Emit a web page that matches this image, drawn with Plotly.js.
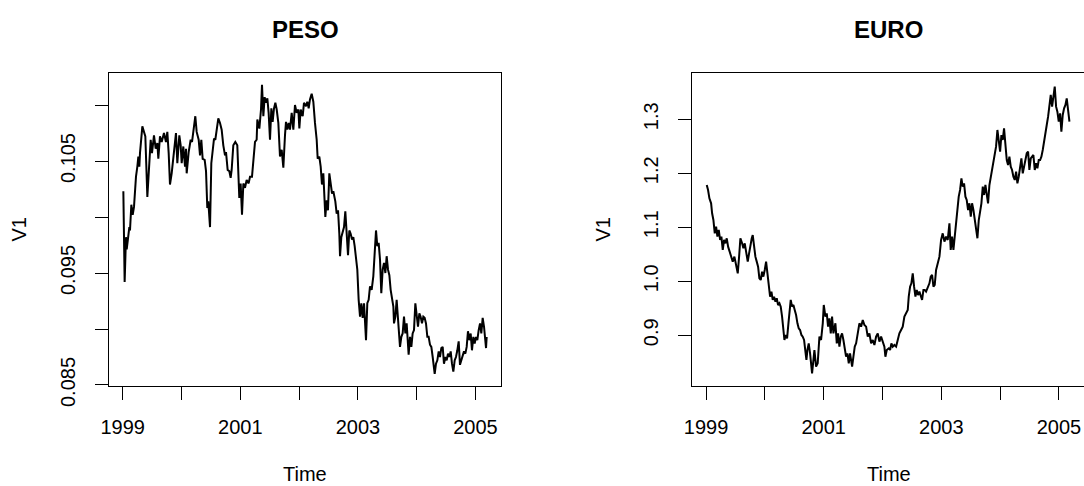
<!DOCTYPE html>
<html>
<head>
<meta charset="utf-8">
<script src="https://cdn.plot.ly/plotly-3.0.1.min.js"></script>
<style>
html,body{margin:0;padding:0;background:#fff;overflow:hidden;width:1084px;height:486px;}
#chart{width:1166px;height:486px;}
</style>
</head>
<body>
<div id="chart"></div>
<script>
// ---- Data (decimal years) ----
const pesoTime = [1999.011,1999.033,1999.056,1999.068,1999.113,1999.124,1999.147,1999.170,1999.192,1999.215,1999.226,1999.249,1999.266,1999.283,1999.294,1999.334,1999.362,1999.385,1999.419,1999.453,1999.476,1999.498,1999.532,1999.561,1999.589,1999.606,1999.634,1999.663,1999.702,1999.736,1999.759,1999.782,1999.804,1999.833,1999.872,1999.906,1999.929,1999.963,1999.986,2000.003,2000.031,2000.060,2000.077,2000.088,2000.122,2000.156,2000.179,2000.201,2000.235,2000.258,2000.292,2000.315,2000.337,2000.360,2000.394,2000.417,2000.439,2000.456,2000.485,2000.507,2000.530,2000.553,2000.575,2000.598,2000.626,2000.655,2000.683,2000.711,2000.740,2000.757,2000.785,2000.813,2000.836,2000.853,2000.881,2000.915,2000.949,2000.983,
2001.006,2001.029,2001.052,2001.080,2001.108,2001.142,2001.165,2001.199,2001.222,2001.250,2001.278,2001.290,2001.324,2001.352,2001.369,2001.392,2001.414,2001.437,2001.460,2001.482,2001.505,2001.528,2001.550,2001.573,2001.596,2001.619,2001.647,2001.675,2001.704,2001.732,2001.760,2001.777,2001.800,2001.823,2001.845,2001.874,2001.902,2001.930,2001.959,2001.987,2002.004,2002.027,2002.061,2002.083,2002.117,2002.140,2002.163,2002.185,2002.214,2002.242,2002.270,2002.299,2002.316,2002.344,2002.367,2002.389,2002.412,2002.429,2002.446,2002.469,2002.491,2002.514,2002.537,2002.560,2002.582,2002.616,2002.639,2002.662,2002.684,2002.696,2002.718,2002.741,2002.764,2002.786,2002.809,2002.832,2002.854,2002.877,2002.900,2002.922,2002.945,2002.968,2002.990,2003.013,2003.036,2003.058,2003.081,2003.104,2003.115,2003.138,2003.160,2003.183,2003.206,2003.234,2003.262,2003.285,2003.308,2003.330,2003.353,2003.376,
2003.398,2003.421,2003.444,2003.467,2003.489,2003.512,2003.535,2003.557,2003.580,2003.603,2003.614,2003.637,2003.659,2003.682,2003.705,2003.716,2003.739,2003.761,2003.784,2003.807,2003.829,2003.852,2003.863,2003.886,2003.909,2003.931,2003.954,2003.977,2003.999,2004.022,2004.045,2004.067,2004.090,2004.113,2004.135,2004.158,2004.181,2004.203,2004.226,2004.249,2004.272,2004.294,2004.306,2004.328,2004.351,2004.374,2004.396,2004.419,2004.442,2004.464,2004.487,2004.510,2004.532,2004.555,2004.578,2004.600,2004.623,2004.646,2004.668,2004.691,2004.714,2004.736,2004.759,2004.782,2004.804,2004.827,2004.850,2004.872,2004.895,2004.918,2004.940,2004.963,2004.986,2005.008,2005.031,2005.054,2005.077,2005.099,2005.122,2005.145,2005.167,2005.179,2005.190];
const pesoValue = [0.1023,0.0942,0.0982,0.0971,0.0991,0.0988,0.1011,0.1002,0.1009,0.1030,0.1036,0.1045,0.1054,0.1045,0.1057,0.1081,0.1076,0.1072,0.1018,0.1054,0.1069,0.1057,0.1073,0.1061,0.1066,0.1052,0.1072,0.1067,0.1075,0.1067,0.1076,0.1057,0.1029,0.1039,0.1057,0.1075,0.1048,0.1073,0.1064,0.1048,0.1063,0.1045,0.1061,0.1039,0.1058,0.1069,0.1067,0.1076,0.1090,0.1076,0.1069,0.1055,0.1069,0.1052,0.1051,0.1041,0.1008,0.1014,0.0991,0.1048,0.1057,0.1070,0.1069,0.1079,0.1088,0.1084,0.1078,0.1064,0.1055,0.1058,0.1042,0.1041,0.1035,0.1042,0.1064,0.1067,0.1064,0.1017,
0.1030,0.1002,0.1030,0.1026,0.1033,0.1030,0.1036,0.1036,0.1048,0.1067,0.1069,0.1087,0.1079,0.1096,0.1118,0.1090,0.1107,0.1102,0.1106,0.1093,0.1069,0.1097,0.1085,0.1097,0.1102,0.1096,0.1084,0.1054,0.1060,0.1044,0.1073,0.1085,0.1078,0.1084,0.1078,0.1093,0.1078,0.1100,0.1093,0.1096,0.1079,0.1096,0.1090,0.1102,0.1099,0.1103,0.1097,0.1105,0.1110,0.1103,0.1084,0.1069,0.1052,0.1054,0.1045,0.1029,0.1039,0.1018,0.1000,0.1015,0.1006,0.1039,0.1030,0.1021,0.1023,0.1014,0.1003,0.1006,0.0985,0.0965,0.0982,0.0988,0.0991,0.1005,0.0980,0.0966,0.0988,0.0985,0.0980,0.0982,0.0974,0.0959,0.0953,0.0926,0.0911,0.0923,0.0910,0.0923,0.0908,0.0890,0.0923,0.0926,0.0938,0.0935,0.0947,0.0971,0.0988,0.0974,0.0977,0.0962,
0.0932,0.0953,0.0959,0.0950,0.0965,0.0953,0.0948,0.0935,0.0929,0.0920,0.0905,0.0911,0.0926,0.0911,0.0899,0.0884,0.0893,0.0896,0.0911,0.0896,0.0905,0.0887,0.0877,0.0893,0.0884,0.0896,0.0899,0.0923,0.0914,0.0902,0.0914,0.0911,0.0905,0.0911,0.0910,0.0905,0.0893,0.0893,0.0886,0.0884,0.0875,0.0866,0.0860,0.0869,0.0872,0.0880,0.0875,0.0883,0.0884,0.0869,0.0875,0.0872,0.0878,0.0875,0.0880,0.0869,0.0862,0.0872,0.0875,0.0881,0.0889,0.0868,0.0872,0.0875,0.0880,0.0878,0.0884,0.0898,0.0890,0.0896,0.0881,0.0893,0.0887,0.0893,0.0890,0.0899,0.0905,0.0896,0.0910,0.0902,0.0893,0.0883,0.0893];

const euroTime = [1999.011,1999.033,1999.056,1999.085,1999.102,1999.124,1999.147,1999.170,1999.192,1999.215,1999.238,1999.260,1999.283,1999.306,1999.328,1999.351,1999.374,1999.396,1999.425,1999.453,1999.481,1999.510,1999.538,1999.561,1999.583,1999.612,1999.634,1999.657,1999.680,1999.708,1999.731,1999.753,1999.776,1999.793,1999.816,1999.838,1999.861,1999.884,1999.906,1999.929,1999.952,1999.974,1999.997,2000.020,2000.043,2000.065,2000.088,2000.111,2000.133,2000.156,2000.179,2000.201,2000.224,2000.247,2000.269,2000.292,2000.315,2000.332,2000.354,2000.377,2000.400,2000.422,2000.439,2000.462,2000.485,2000.507,2000.530,2000.553,2000.575,2000.598,2000.621,2000.643,2000.666,2000.689,2000.706,2000.723,2000.745,2000.768,2000.785,2000.802,
2000.842,2000.870,2000.898,2000.927,2000.955,2000.984,2001.001,2001.029,2001.052,2001.074,2001.097,2001.120,2001.142,2001.165,2001.199,2001.222,2001.244,2001.267,2001.290,2001.312,2001.335,2001.358,2001.380,2001.403,2001.426,2001.448,2001.471,2001.483,2001.505,2001.528,2001.551,2001.579,2001.607,2001.636,2001.664,2001.692,2001.721,2001.749,2001.777,2001.806,2001.834,2001.862,2001.891,2001.919,2001.947,2001.976,2002.004,2002.032,2002.049,2002.072,2002.106,2002.129,2002.151,2002.174,2002.202,2002.231,2002.259,2002.287,2002.316,2002.344,2002.372,2002.401,2002.429,2002.446,2002.469,2002.491,2002.514,2002.537,2002.560,2002.582,2002.605,2002.628,2002.650,2002.673,2002.696,2002.718,2002.741,2002.769,2002.798,2002.820,2002.843,2002.866,2002.888,2002.911,2002.939,2002.968,2002.996,
2003.024,2003.053,2003.081,2003.109,2003.138,2003.160,2003.183,2003.206,2003.228,2003.251,2003.279,2003.296,2003.319,2003.342,2003.364,2003.387,2003.410,2003.432,2003.455,2003.478,2003.501,2003.523,2003.546,2003.569,2003.591,2003.614,2003.637,2003.659,2003.682,2003.705,2003.727,2003.750,2003.773,2003.795,2003.818,2003.841,2003.863,2003.886,2003.909,2003.931,2003.954,2003.977,2004.000,2004.022,2004.045,2004.067,2004.090,2004.113,2004.135,2004.158,2004.181,2004.203,2004.226,2004.249,2004.272,2004.294,2004.317,2004.340,2004.362,2004.385,2004.408,2004.430,2004.453,2004.476,2004.498,2004.521,2004.544,2004.566,2004.589,2004.612,2004.634,2004.657,2004.680,2004.702,2004.725,2004.748,2004.770,2004.793,2004.816,2004.838,2004.861,2004.884,2004.906,2004.929,2004.952,2004.974,2004.997,2005.020,2005.042,2005.065,2005.088,2005.111,2005.133,2005.156,2005.179];
const euroValue = [1.1783,1.1691,1.1536,1.1444,1.1259,1.1135,1.0888,1.1012,1.0827,1.0950,1.0765,1.0827,1.0580,1.0765,1.0703,1.0796,1.0641,1.0549,1.0456,1.0364,1.0456,1.0302,1.0148,1.0456,1.0796,1.0703,1.0611,1.0703,1.0549,1.0364,1.0518,1.0703,1.0796,1.0857,1.0641,1.0456,1.0364,1.0271,1.0055,1.0024,1.0178,1.0086,1.0209,1.0364,1.0148,0.9962,0.9715,0.9808,0.9654,0.9715,0.9623,0.9685,0.9561,0.9592,0.9530,0.9345,0.9036,0.8913,0.9006,0.8944,0.9222,0.9469,0.9654,0.9530,0.9561,0.9469,0.9376,0.9222,0.9129,0.9098,0.9006,0.8975,0.8913,0.8697,0.8543,0.8728,0.8851,0.8666,0.8481,0.8296,
0.8728,0.8419,0.8481,0.8975,0.8913,0.9222,0.9561,0.9345,0.9407,0.9160,0.9314,0.9036,0.9345,0.9036,0.9222,0.8851,0.9036,0.8790,0.8975,0.9036,0.8913,0.8728,0.8604,0.8666,0.8481,0.8666,0.8543,0.8419,0.8604,0.8790,0.8851,0.9036,0.9222,0.9160,0.9283,0.9191,0.9160,0.8975,0.9036,0.8851,0.8913,0.8820,0.8975,0.9036,0.8882,0.8975,0.8882,0.8790,0.8604,0.8728,0.8759,0.8728,0.8851,0.8790,0.8820,0.8790,0.8913,0.9036,0.9098,0.9160,0.9345,0.9407,0.9469,0.9715,0.9901,0.9962,1.0148,0.9901,0.9715,0.9839,0.9746,0.9808,0.9715,0.9654,0.9839,0.9839,0.9808,0.9901,0.9962,1.0086,1.0117,0.9901,0.9932,1.0209,1.0333,1.0456,1.0765,
1.0888,1.0734,1.0827,1.0765,1.1073,1.0580,1.0827,1.0580,1.0827,1.1012,1.1320,1.1567,1.1691,1.1907,1.1753,1.1814,1.1567,1.1506,1.1320,1.1444,1.1197,1.1444,1.1320,1.1135,1.0950,1.0796,1.1135,1.1320,1.1444,1.1753,1.1598,1.1783,1.1629,1.1444,1.1783,1.1938,1.2061,1.2246,1.2370,1.2493,1.2802,1.2617,1.2401,1.2709,1.2617,1.2833,1.2555,1.2246,1.2154,1.2308,1.2123,1.2061,1.1938,1.1876,1.2030,1.1814,1.1938,1.2123,1.2277,1.1999,1.2123,1.2215,1.2370,1.2401,1.2061,1.2277,1.2308,1.2339,1.2061,1.2185,1.2092,1.2246,1.2246,1.2308,1.2432,1.2617,1.2771,1.2894,1.3049,1.3296,1.3450,1.3234,1.3419,1.3604,1.3234,1.3141,1.2956,1.3111,1.2771,1.3080,1.3203,1.3265,1.3388,1.3141,1.2956];

// ---- Labels and ticks ----
const panelTitles = ["PESO", "EURO"];
const xTitle = "Time";
const yTitle = "V1";
const xTickVals = [1999, 2000, 2001, 2002, 2003, 2004, 2005];
const xTickText = ["1999", "", "2001", "", "2003", "", "2005"];
const pesoTickVals = [0.085, 0.090, 0.095, 0.100, 0.105, 0.110];
const pesoTickText = ["0.085", "", "0.095", "", "0.105", ""];
const euroTickVals = [0.9, 1.0, 1.1, 1.2, 1.3];
const euroTickText = ["0.9", "1.0", "1.1", "1.2", "1.3"];

// ---- Geometry (pixels in a 1166 x 486 figure, cropped to 1084) ----
const W = 1166, H = 486;
const FONT = "Liberation Sans, Arial, Helvetica, sans-serif";
const leftBox = [109, 501], rightBox = [692, 1085], yBox = [73, 386];
const px = v => v / W, py = v => (H - v) / H;

const lineStyle = {color: "#000", width: 2};
const traces = [
  {x: pesoTime, y: pesoValue, type: "scatter", mode: "lines", line: lineStyle, xaxis: "x", yaxis: "y", hoverinfo: "skip"},
  {x: euroTime, y: euroValue, type: "scatter", mode: "lines", line: lineStyle, xaxis: "x2", yaxis: "y2", hoverinfo: "skip"}
];

function xAxis(domain, anchor, range) {
  return {
    domain: domain, anchor: anchor, range: range,
    tickmode: "array", tickvals: xTickVals, ticktext: xTickText,
    ticks: "outside", ticklen: 13, tickwidth: 1, tickcolor: "#000",
    showline: true, mirror: true, linecolor: "#000", linewidth: 1,
    showgrid: false, zeroline: false, ticklabelstandoff: 10,
    tickfont: {family: FONT, size: 20, color: "#000"}
  };
}
function yAxis(anchor, range, vals, text) {
  return {
    domain: [py(yBox[1]), py(yBox[0])], anchor: anchor, range: range,
    tickmode: "array", tickvals: vals, ticktext: text, tickangle: -90,
    ticks: "outside", ticklen: 13, tickwidth: 1, tickcolor: "#000",
    showline: true, mirror: true, linecolor: "#000", linewidth: 1,
    showgrid: false, zeroline: false, ticklabelstandoff: 12,
    tickfont: {family: FONT, size: 20, color: "#000"}
  };
}

const xr = [1998.767, 1998.767 + (leftBox[1] - leftBox[0]) / 58.8];
const xr2 = [1998.76, 1998.76 + (rightBox[1] - rightBox[0]) / 58.8];

const annotations = [];
[[leftBox, 18], [rightBox, 602]].forEach((b, i) => {
  const cx = (b[0][0] + b[0][1]) / 2;
  annotations.push({text: panelTitles[i], x: px(cx), y: py(29), xref: "paper", yref: "paper",
    xanchor: "center", yanchor: "middle", showarrow: false,
    font: {family: FONT, size: 24, weight: "bold", color: "#000"}});
  annotations.push({text: xTitle, x: px(cx), y: py(474), xref: "paper", yref: "paper",
    xanchor: "center", yanchor: "middle", showarrow: false,
    font: {family: FONT, size: 20, color: "#000"}});
  annotations.push({text: yTitle, x: px(b[1]), y: py((yBox[0] + yBox[1]) / 2), xref: "paper", yref: "paper",
    xanchor: "center", yanchor: "middle", showarrow: false, textangle: -90,
    font: {family: FONT, size: 20, color: "#000"}});
});

const layout = {
  width: W, height: H,
  margin: {l: 0, r: 0, t: 0, b: 0},
  paper_bgcolor: "#fff", plot_bgcolor: "#fff",
  showlegend: false,
  xaxis: xAxis([px(leftBox[0]), px(leftBox[1])], "y", xr),
  yaxis: yAxis("x", [0.08491, 0.11286], pesoTickVals, pesoTickText),
  xaxis2: xAxis([px(rightBox[0]), px(rightBox[1])], "y2", xr2),
  yaxis2: yAxis("x2", [0.8061, 1.3857], euroTickVals, euroTickText),
  annotations: annotations
};

Plotly.newPlot("chart", traces, layout, {displayModeBar: false, staticPlot: true});
</script>
</body>
</html>
